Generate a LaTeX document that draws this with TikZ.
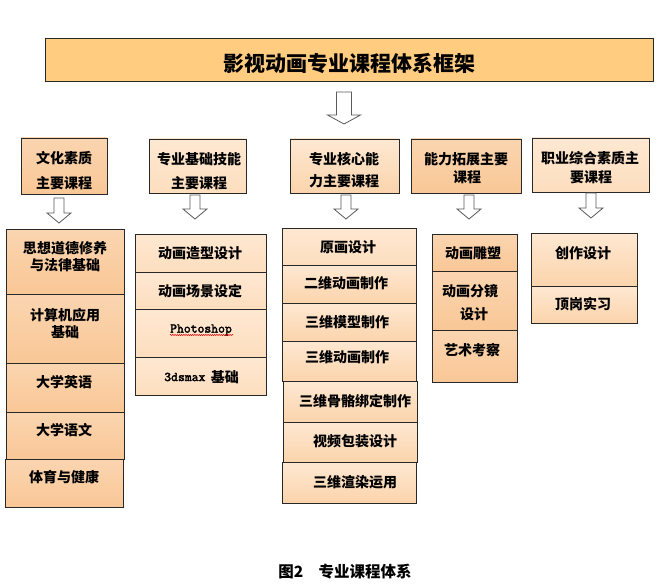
\documentclass[tikz,border=0pt]{standalone}
\usepackage{fontspec}
\newfontfamily\cjk{Noto Sans CJK SC}
\newfontfamily\latmono{Latin Modern Mono}[FakeBold=2.5]
\usetikzlibrary{shadows,decorations.pathmorphing}
\definecolor{titlefill}{RGB}{255,204,128}
\definecolor{peach}{RGB}{249,199,150}
\definecolor{peachmid}{RGB}{251,212,172}
\definecolor{peachlt}{RGB}{253,222,190}
\definecolor{peachtop}{RGB}{254,232,210}
\definecolor{boxline}{RGB}{40,40,40}
\definecolor{arrline}{RGB}{90,90,90}
\newcommand\mkbox[6]{%
  \node[#6, anchor=north west, inner sep=0pt, outer sep=0pt,
        minimum width={(#4-#2)*1pt}, minimum height={(#5-#3)*1pt}] (#1) at (#2,#3) {};}
\newcommand\blockarrow[7]{%
  \coordinate (#1) at (#2,#3);
  \draw[harrow] (#2-#6,#3) -- (#2+#6,#3) -- (#2+#6,#4) -- (#2+#7,#4) -- (#2,#5)
     -- (#2-#7,#4) -- (#2-#6,#4) -- cycle;}
\begin{document}
\begin{tikzpicture}[x=1pt,y=-1pt]
\tikzset{
  bxbase/.style={draw=boxline, line width=0.8pt,
     drop shadow={shadow xshift=1.3pt, shadow yshift=-1.3pt, fill=black, opacity=0.35}},
  titlebox/.style={bxbase, fill=titlefill},
  satbox/.style={bxbase, top color=peach!75!white, bottom color=peach},
  ltbox/.style={bxbase, top color=peachtop, bottom color=peachlt},
  midbox/.style={bxbase, top color=peachtop, bottom color=peachmid},
  harrow/.style={draw=arrline, fill=white, line width=0.8pt, line join=miter},
  txt/.style={font=\cjk\bfseries\fontsize{14}{16}\selectfont, inner sep=0pt, text=black},
  ttl/.style={font=\cjk\bfseries\fontsize{21}{24}\selectfont, inner sep=0pt, text=black},
  captxt/.style={font=\cjk\bfseries\fontsize{15.5}{18}\selectfont, inner sep=0pt, text=black},
  lat/.style={font=\latmono\bfseries\fontsize{13.3}{15}\selectfont, inner sep=0pt, text=black}
}
\fill[white] (0,0) rectangle (666,588);
\useasboundingbox (0,0) rectangle (666,588);

% title
\mkbox{title}{45}{38}{653}{81}{titlebox}
\node[ttl] (ttltext) at (349,64) {影视动画专业课程体系框架};
\blockarrow{bigarrow}{344}{92}{115}{124}{7.5}{16.5}

% categories
\mkbox{catA}{21}{138}{107}{194}{satbox}
\mkbox{catB}{149}{139}{246}{193}{ltbox}
\mkbox{catC}{290}{139}{399}{193}{midbox}
\mkbox{catD}{411}{139}{521}{193}{satbox}
\mkbox{catE}{532}{138}{649}{192}{ltbox}
\node[txt] (tA1) at (64,158) {文化素质};
\node[txt] (tA2) at (64,183) {主要课程};
\node[txt] (tB1) at (199,159) {专业基础技能};
\node[txt] (tB2) at (199,183) {主要课程};
\node[txt] (tC1) at (344,159) {专业核心能};
\node[txt] (tC2) at (344,181) {力主要课程};
\node[txt] (tD1) at (466,159) {能力拓展主要};
\node[txt] (tD2) at (467,177) {课程};
\node[txt] (tE1) at (590,158) {职业综合素质主};
\node[txt] (tE2) at (591,177) {要课程};

% small arrows
\blockarrow{arrA}{59}{198}{213}{223}{5}{12}
\blockarrow{arrB}{195}{195}{209}{219}{5}{12}
\blockarrow{arrC}{346}{195}{209}{219}{5}{12}
\blockarrow{arrD}{469}{195}{209}{219}{5}{12}
\blockarrow{arrE}{591}{193}{208}{218}{5}{12}

% column 1
\mkbox{a1}{6}{229}{124}{294}{satbox}
\mkbox{a2}{6}{294}{124}{363}{satbox}
\mkbox{a3}{6}{363}{124}{412}{satbox}
\mkbox{a4}{6}{412}{124}{459}{satbox}
\mkbox{a5}{5}{459}{123}{507}{satbox}
\node[txt] (ta1a) at (65,248) {思想道德修养};
\node[txt] (ta1b) at (65,265) {与法律基础};
\node[txt] (ta2a) at (65,315) {计算机应用};
\node[txt] (ta2b) at (65,332) {基础};
\node[txt] (ta3) at (64,382) {大学英语};
\node[txt] (ta4) at (64,430) {大学语文};
\node[txt] (ta5) at (64,477) {体育与健康};

% column 2
\mkbox{b1}{135}{234}{266}{272}{ltbox}
\mkbox{b2}{135}{272}{266}{309}{ltbox}
\mkbox{b3}{135}{309}{266}{357}{ltbox}
\mkbox{b4}{135}{357}{266}{395}{ltbox}
\node[txt] (tb1) at (200,253) {动画造型设计};
\node[txt] (tb2) at (200,291) {动画场景设定};
\node[lat] (tb3) at (201,330) {Photoshop};
\draw[red!85!black, line width=0.5pt, decorate,
      decoration={snake, amplitude=0.6pt, segment length=2.2pt}] (170,335) -- (233,335);
\node[txt, anchor=east] (tb4b) at (239,377) {基础};
\node[lat, anchor=east] (tb4a) at ([xshift=-5pt]tb4b.west) {3dsmax};

% column 3
\mkbox{c1}{282}{228}{416}{265}{ltbox}
\mkbox{c2}{282}{265}{416}{303}{midbox}
\mkbox{c3}{282}{303}{416}{341}{midbox}
\mkbox{c4}{282}{341}{416}{381}{midbox}
\mkbox{c5}{283}{381}{417}{422}{midbox}
\mkbox{c6}{283}{422}{417}{462}{midbox}
\mkbox{c7}{282}{462}{416}{503}{midbox}
\node[txt] (tc1) at (348,247) {原画设计};
\node[txt] (tc2) at (346,283) {二维动画制作};
\node[txt] (tc3) at (347,322) {三维模型制作};
\node[txt] (tc4) at (347,357) {三维动画制作};
\node[txt] (tc5) at (355,401) {三维骨骼绑定制作};
\node[txt] (tc6) at (355,441) {视频包装设计};
\node[txt] (tc7) at (355,482) {三维渲染运用};

% column 4
\mkbox{d1}{432}{234}{517}{271}{satbox}
\mkbox{d2}{432}{271}{517}{330}{satbox}
\mkbox{d3}{432}{330}{517}{382}{satbox}
\node[txt] (td1) at (473,253) {动画雕塑};
\node[txt] (td2a) at (470,291) {动画分镜};
\node[txt] (td2b) at (474,314) {设计};
\node[txt] (td3) at (472,350) {艺术考察};

% column 5
\mkbox{e1}{531}{233}{637}{286}{midbox}
\mkbox{e2}{531}{286}{637}{323}{midbox}
\node[txt] (te1) at (583,253) {创作设计};
\node[txt] (te2) at (583,304) {顶岗实习};

% caption
\node[captxt] (caption) at (345,572) {图2\hspace{1em}专业课程体系};
\end{tikzpicture}
\end{document}
